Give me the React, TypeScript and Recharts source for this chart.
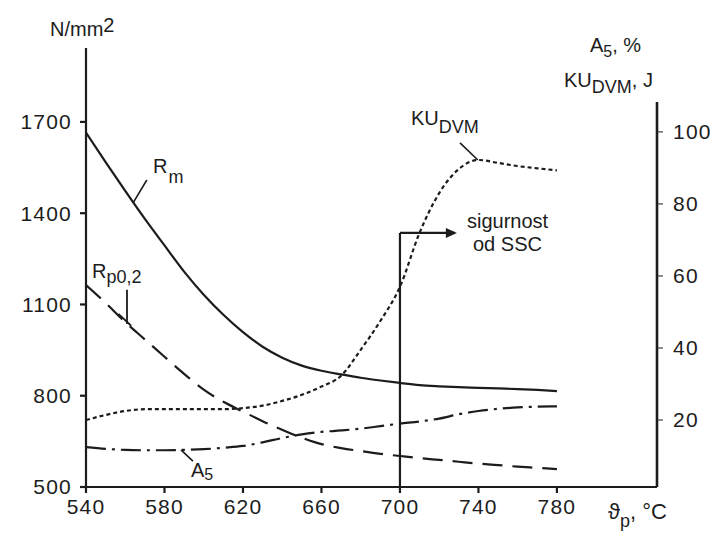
import React from 'react';
import { LineChart, Line, XAxis, YAxis, ReferenceLine } from 'recharts';

// tempering temperature, °C
const temps = [540, 550, 560, 570, 580, 590, 600, 610, 620, 630, 640, 650, 660, 670, 680, 690, 700, 710, 720, 730, 740, 750, 760, 770, 780];
// N/mm2 (left axis)
const rm = [1665, 1568, 1473, 1381, 1294, 1208, 1132, 1066, 1009, 961, 925, 899, 882, 870, 859, 850, 842, 835, 831, 828, 826, 824, 822, 819, 815];
const rp02 = [1164, 1105, 1042, 985, 928, 872, 820, 780, 748, 716, 688, 662, 641, 628, 618, 609, 602, 595, 589, 583, 577, 572, 567, 563, 559];
// %, J (right axis)
const kuDvm = [20, 21.4, 22.5, 23, 23, 23, 23, 23, 23.3, 24, 25.3, 27, 29.3, 32.3, 39.5, 47.5, 57, 72, 83, 89.7, 92.2, 91.4, 90.5, 89.9, 89.3];
const a5 = [12.5, 12, 11.7, 11.6, 11.6, 11.7, 11.9, 12.3, 12.8, 13.8, 15, 16, 16.7, 17.1, 17.6, 18.3, 19, 19.6, 20.4, 21.6, 22.5, 23.1, 23.5, 23.7, 23.8];

const xTicks = [540, 580, 620, 660, 700, 740, 780];
const leftTicks = [500, 800, 1100, 1400, 1700];
const rightTicks = [20, 40, 60, 80, 100];

const data = temps.map((t, i) => ({ t, rm: rm[i], rp: rp02[i], ku: kuDvm[i], a5: a5[i] }));

const ink = '#1c1c1c';
const font = '"Liberation Sans", Arial, sans-serif';
const tickStyle = { fill: ink, fontSize: 21, fontFamily: font, letterSpacing: 1.2 };

const arrowShape = (p: any) => (
  <g>
    <line x1={p.x1} y1={p.y1} x2={p.x2} y2={p.y2} stroke={ink} strokeWidth={2.2} />
    <path d={`M${p.x2 + 2},${p.y2} l-11,-5 l0,10 z`} fill={ink} />
  </g>
);

export default function App() {
  const lbl = { fill: ink, fontFamily: font, fontSize: 20 } as const;
  return (
    <div style={{ position: 'absolute', left: 0, top: 0, width: 717, height: 537, background: '#fff' }}>
      <LineChart width={717} height={537} data={data} margin={{ top: 48, right: 10, bottom: 20, left: 26 }}>
        <XAxis
          dataKey="t"
          type="number"
          domain={[540, 831]}
          ticks={xTicks}
          allowDataOverflow
          height={30}
          stroke={ink}
          strokeWidth={2.2}
          tickSize={6}
          tickMargin={6}
          tick={tickStyle}
        />
        <YAxis
          yAxisId="left"
          domain={[500, 1943]}
          ticks={leftTicks}
          allowDataOverflow
          width={60}
          stroke={ink}
          strokeWidth={2.2}
          tickSize={6}
          tickMargin={8}
          tick={tickStyle}
        />
        <YAxis
          yAxisId="right"
          orientation="right"
          domain={[1.4, 123.3]}
          ticks={rightTicks}
          allowDataOverflow
          width={50}
          axisLine={false}
          stroke={ink}
          tickSize={6}
          tickMargin={10}
          tick={tickStyle}
        />
        <ReferenceLine yAxisId="right" segment={[{ x: 831, y: 1.4 }, { x: 831, y: 108.3 }]} stroke={ink} strokeWidth={2.6} />

        {/* SSC safety marker */}
        <ReferenceLine yAxisId="left" segment={[{ x: 700, y: 500 }, { x: 700, y: 1335 }]} stroke={ink} strokeWidth={2.2} />
        <ReferenceLine yAxisId="left" segment={[{ x: 700, y: 1335 }, { x: 728, y: 1335 }]} shape={arrowShape} />

        {/* leader lines */}
        <ReferenceLine yAxisId="left" segment={[{ x: 564, y: 1434 }, { x: 571, y: 1509 }]} stroke={ink} strokeWidth={1.6} />
        <ReferenceLine yAxisId="left" segment={[{ x: 560.9, y: 1148 }, { x: 560.9, y: 1036 }]} stroke={ink} strokeWidth={1.8} />
        <ReferenceLine yAxisId="left" segment={[{ x: 556.5, y: 1069 }, { x: 563, y: 1030 }]} stroke={ink} strokeWidth={1.8} />
        <ReferenceLine yAxisId="left" segment={[{ x: 588.4, y: 622 }, { x: 594.5, y: 585 }]} stroke={ink} strokeWidth={1.6} />
        <ReferenceLine yAxisId="left" segment={[{ x: 730.6, y: 1631 }, { x: 739.7, y: 1575 }]} stroke={ink} strokeWidth={1.6} />

        <Line yAxisId="left" dataKey="rm" type="monotone" stroke={ink} strokeWidth={2.2} dot={false} isAnimationActive={false} />
        <Line yAxisId="left" dataKey="rp" type="monotone" stroke={ink} strokeWidth={2.2} strokeDasharray="20 10" dot={false} isAnimationActive={false} />
        <Line yAxisId="right" dataKey="ku" type="monotone" stroke={ink} strokeWidth={2.2} strokeDasharray="4 3" dot={false} isAnimationActive={false} />
        <Line yAxisId="right" dataKey="a5" type="monotone" stroke={ink} strokeWidth={2.2} strokeDasharray="20 6 3 6" dot={false} isAnimationActive={false} />
      </LineChart>

      <svg width={717} height={537} style={{ position: 'absolute', left: 0, top: 0, pointerEvents: 'none' }}>
        <text x={50} y={36} {...lbl}>N/mm<tspan dy={-4}>2</tspan></text>
        <text x={590} y={52} {...lbl}>A<tspan dy={5} fontSize={16}>5</tspan><tspan dy={-5}>, %</tspan></text>
        <text x={564} y={87} {...lbl}>KU<tspan dy={6} fontSize={18}>DVM</tspan><tspan dy={-6}>, J</tspan></text>
        <text x={153} y={173} {...lbl}>R<tspan dx={1} dy={10} fontSize={18}>m</tspan></text>
        <text x={92} y={278} {...lbl}>R<tspan dy={5} fontSize={18}>p0,2</tspan></text>
        <text x={191} y={477} {...lbl}>A<tspan dy={3} fontSize={16}>5</tspan></text>
        <text x={411} y={125} {...lbl}>KU<tspan dy={8} fontSize={18}>DVM</tspan></text>
        <text x={467} y={228} {...lbl}>sigurnost</text>
        <text x={473} y={251} {...lbl}>od SSC</text>
        <text x={608} y={519} {...lbl} fontSize={22}>ϑ<tspan dy={8} fontSize={18}>p</tspan><tspan dy={-8}>, °C</tspan></text>
      </svg>
    </div>
  );
}
